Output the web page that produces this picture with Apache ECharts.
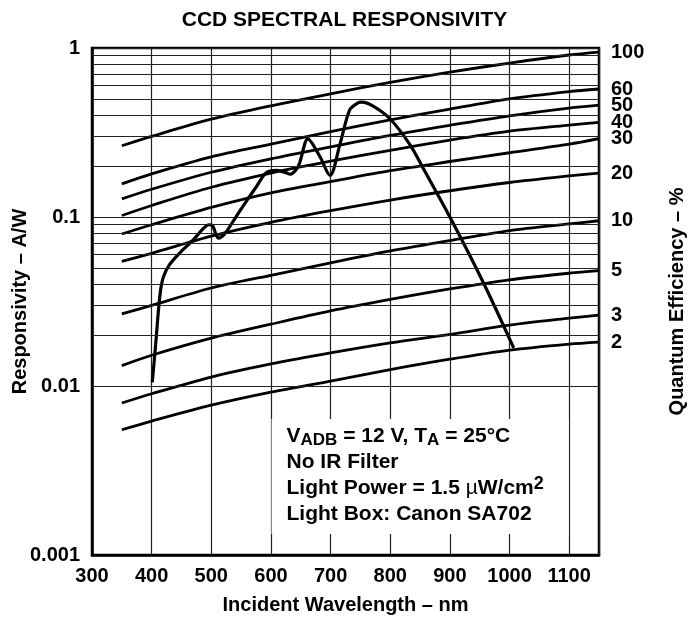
<!DOCTYPE html>
<html><head><meta charset="utf-8">
<script src="https://cdn.jsdelivr.net/npm/echarts@6/dist/echarts.min.js"></script>
<style>html,body{margin:0;padding:0;background:#fff}#c{width:689px;height:623px}</style>
</head><body><div id="c"></div>
<script>
// ---- data ----
const qeWavelengths = [350, 400, 500, 600, 700, 800, 900, 1000, 1100, 1150];
const qe100 = [0.264, 0.300, 0.379, 0.455, 0.536, 0.626, 0.719, 0.815, 0.909, 0.946];
const qe60  = [0.157, 0.180, 0.227, 0.270, 0.320, 0.375, 0.435, 0.500, 0.552, 0.572];
const qe50  = [0.128, 0.146, 0.184, 0.221, 0.260, 0.304, 0.349, 0.397, 0.441, 0.459];
const qe40  = [0.102, 0.117, 0.150, 0.182, 0.214, 0.248, 0.285, 0.322, 0.350, 0.363];
const qe30  = [0.0793, 0.090, 0.114, 0.139, 0.162, 0.188, 0.213, 0.240, 0.270, 0.291];
const qe20  = [0.0546, 0.061, 0.077, 0.093, 0.109, 0.126, 0.143, 0.160, 0.175, 0.182];
const qe10  = [0.0267, 0.030, 0.038, 0.0452, 0.0535, 0.063, 0.0725, 0.083, 0.091, 0.095];
const qe5   = [0.0132, 0.0152, 0.0192, 0.0232, 0.0278, 0.0325, 0.0375, 0.0425, 0.0465, 0.0481];
const qe3   = [0.00793, 0.0090, 0.0113, 0.0135, 0.0157, 0.0180, 0.0202, 0.0229, 0.0252, 0.0263];
const qe2   = [0.00551, 0.0062, 0.0077, 0.0092, 0.0107, 0.0125, 0.0144, 0.0163, 0.0177, 0.0182];
const qeLabels = ['100', '60', '50', '40', '30', '20', '10', '5', '3', '2'];
const qeSeriesValues = [qe100, qe60, qe50, qe40, qe30, qe20, qe10, qe5, qe3, qe2];

const respWavelengths = [401, 405, 408, 411, 415, 420, 430, 447, 470, 486, 496, 502, 512, 522, 542, 560, 575, 592, 610, 625, 632, 646, 662, 682, 699, 716, 732, 745, 752, 772, 800, 833, 855, 900, 956, 1007];
const respValues = [0.0105, 0.0150, 0.020, 0.027, 0.037, 0.0445, 0.0522, 0.0612, 0.0734, 0.085, 0.090, 0.089, 0.075, 0.079, 0.101, 0.126, 0.150, 0.183, 0.189, 0.183, 0.179, 0.200, 0.290, 0.228, 0.176, 0.272, 0.43, 0.472, 0.478, 0.452, 0.380, 0.268, 0.195, 0.100, 0.041, 0.0168];

const xTicks = [300, 400, 500, 600, 700, 800, 900, 1000, 1100];
const yTickLabels = {'0.001': '0.001', '0.01': '0.01', '0.1': '0.1', '1': '1'};
const minorGridValues = [0.002, 0.003, 0.004, 0.005, 0.006, 0.007, 0.008, 0.009,
  0.02, 0.03, 0.04, 0.05, 0.06, 0.07, 0.08, 0.09,
  0.2, 0.3, 0.4, 0.5, 0.6, 0.7, 0.8, 0.9];
const noteBox = {x0: 601, x1: 1099, yTop: 0.00638, yBottom: 0.00133};

// ---- chart ----
const FF = '"Liberation Sans", Arial, Helvetica, sans-serif';
const chart = echarts.init(document.getElementById('c'), null, {renderer: 'canvas'});

const qeSeries = qeSeriesValues.map((vals, i) => ({
  name: qeLabels[i],
  type: 'line',
  z: 3,
  data: qeWavelengths.map((w, j) => [w, vals[j]]),
  smooth: 0.3,
  showSymbol: false,
  symbol: 'none',
  silent: true,
  lineStyle: {color: '#000', width: 2.8},
  endLabel: {
    show: true, formatter: qeLabels[i], distance: 12,
    color: '#000', fontFamily: FF, fontWeight: 'bold', fontSize: 20
  }
}));

const option = {
  animation: false,
  backgroundColor: '#fff',
  title: {
    text: 'CCD SPECTRAL RESPONSIVITY', left: 'center', top: 5,
    textStyle: {color: '#000', fontFamily: FF, fontWeight: 'bold', fontSize: 21}
  },
  grid: {left: 92, right: 90, top: 48, bottom: 68, show: true, containLabel: false,
    outerBoundsMode: 'none',
    borderColor: '#000', borderWidth: 2.5, backgroundColor: 'transparent'},
  xAxis: {
    type: 'value', min: 300, max: 1150, interval: 100,
    name: 'Incident Wavelength – nm', nameLocation: 'middle', nameGap: 40, nameMoveOverlap: false,
    nameTextStyle: {color: '#000', fontFamily: FF, fontWeight: 'bold', fontSize: 20},
    axisLine: {show: true, lineStyle: {color: '#000', width: 2.5}},
    axisTick: {show: false},
    axisLabel: {color: '#000', fontFamily: FF, fontWeight: 'bold', fontSize: 20, margin: 11,
      showMaxLabel: false,
      formatter: v => xTicks.indexOf(v) >= 0 ? String(v) : ''},
    splitLine: {show: true, lineStyle: {color: '#222', width: 1.2}}
  },
  yAxis: [{
    type: 'log', logBase: 10, min: 0.001, max: 1, position: 'left',
    name: 'Responsivity – A/W', nameLocation: 'middle', nameGap: 62, nameMoveOverlap: false,
    nameTextStyle: {color: '#000', fontFamily: FF, fontWeight: 'bold', fontSize: 20},
    axisLine: {show: true, lineStyle: {color: '#000', width: 2.5}},
    axisTick: {show: false},
    axisLabel: {color: '#000', fontFamily: FF, fontWeight: 'bold', fontSize: 20, margin: 12,
      formatter: v => yTickLabels[String(Number(v.toPrecision(3)))] || ''},
    splitLine: {show: true, lineStyle: {color: '#222', width: 1.2}}
  }, {
    type: 'log', logBase: 10, min: 0.001, max: 1, position: 'right',
    name: 'Quantum Efficiency – %', nameLocation: 'middle', nameGap: 68, nameRotate: 90, nameMoveOverlap: false,
    nameTextStyle: {color: '#000', fontFamily: FF, fontWeight: 'bold', fontSize: 20},
    axisLine: {show: false}, axisTick: {show: false}, axisLabel: {show: false},
    splitLine: {show: false}
  }],
  series: [{
    name: 'minor-grid', type: 'line', data: [], z: 1, silent: true,
    markLine: {
      silent: true, symbol: ['none', 'none'], label: {show: false}, animation: false,
      lineStyle: {color: '#222', width: 1.2, type: 'solid'},
      data: minorGridValues.map(v => ({yAxis: v}))
    }
  }, {
    name: 'note', type: 'line', data: [], z: 2, silent: true,
    markArea: {
      silent: true,
      itemStyle: {color: '#fff', opacity: 1},
      label: {
        show: true, position: 'insideTopLeft', distance: 0, padding: [4, 0, 0, 15],
        color: '#000', fontFamily: FF, fontWeight: 'bold', fontSize: 21,
        formatter: '{b|V}{sub|ADB}{b| = 12 V, T}{sub|A}{b| = 25°C}\n{b|No IR Filter}\n{b|Light Power = 1.5 }{mu|µ}{b|W/cm}{sup|2}\n{b|Light Box: Canon SA702}',
        rich: {
          b: {fontFamily: FF, fontWeight: 'bold', fontSize: 21, lineHeight: 26, color: '#000'},
          mu: {fontFamily: FF, fontWeight: 'normal', fontSize: 21, lineHeight: 26, color: '#000'},
          sub: {fontFamily: FF, fontWeight: 'bold', fontSize: 17, lineHeight: 26, verticalAlign: 'bottom', color: '#000'},
          sup: {fontFamily: FF, fontWeight: 'bold', fontSize: 18, lineHeight: 26, verticalAlign: 'top', color: '#000'}
        }
      },
      data: [[{xAxis: noteBox.x0, yAxis: noteBox.yTop}, {xAxis: noteBox.x1, yAxis: noteBox.yBottom}]]
    }
  }].concat(qeSeries).concat([{
    name: 'Responsivity', type: 'line', z: 4,
    data: respWavelengths.map((w, i) => [w, respValues[i]]),
    smooth: 0.3,
    showSymbol: false, symbol: 'none', silent: true,
    lineStyle: {color: '#000', width: 3.2}
  }])
};
chart.setOption(option);
</script>
</body></html>
